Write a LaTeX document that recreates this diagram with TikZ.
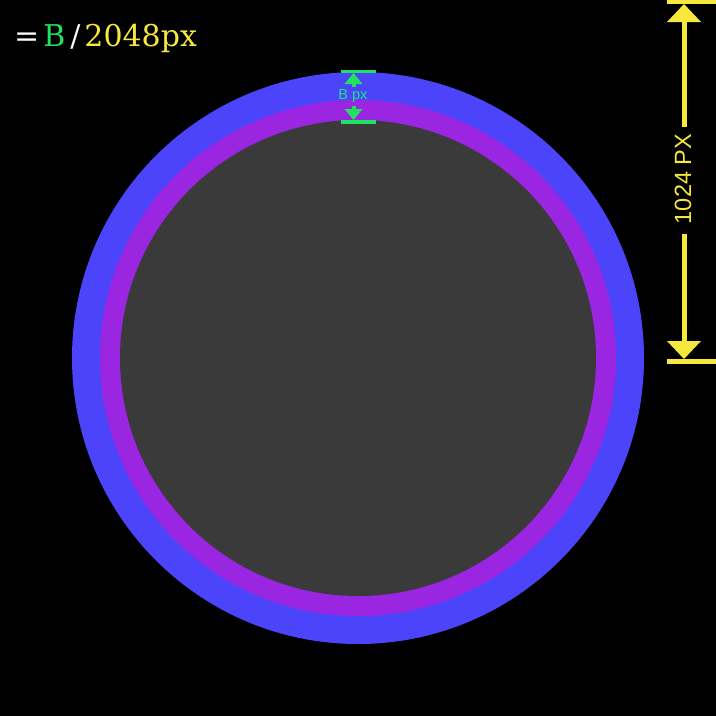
\documentclass[tikz,border=0pt]{standalone}
\usepackage{fontspec}
\setmainfont{DejaVu Serif}
\newfontfamily\labelsans{Liberation Sans}
\definecolor{ringblue}{HTML}{4B44FB}
\definecolor{ringpurple}{HTML}{9A26E2}
\definecolor{coregrey}{HTML}{3A3A3A}
\definecolor{mgreen}{HTML}{22E060}
\definecolor{myellow}{HTML}{F7E83E}
\tikzset{
  ybar/.style={fill=myellow, draw=none},
  gbar/.style={fill=mgreen, draw=none},
}
\begin{document}
\begin{tikzpicture}[x=1pt,y=-1pt]
\fill[black] (0,0) rectangle (716,716);
\useasboundingbox (0,0) rectangle (716,716);
% rings
\fill[ringblue] (358,358) circle (286);
\fill[ringpurple] (358,358) circle (258);
\fill[coregrey] (358,358) circle (238);
% green marker
\fill[gbar] (341,69.5) rectangle (376,73);
\fill[gbar] (341,120) rectangle (376,123.5);
\fill[gbar] (353.5,73) -- (344.5,84) -- (362.5,84) -- cycle;
\fill[gbar] (351.5,83) rectangle (355.5,87);
\fill[gbar] (353.5,120) -- (344.5,109) -- (362.5,109) -- cycle;
\fill[gbar] (351.5,106) rectangle (355.5,110);
\node[text=mgreen!80!cyan, font=\labelsans\fontsize{14.5}{14.5}\selectfont, inner sep=0] (bpx) at (353,96) {B px};
% yellow dimension
\fill[ybar] (667,-1) rectangle (716,4);
\fill[ybar] (667,359) rectangle (716,364);
\fill[ybar] (684,4) -- (667,22) -- (701,22) -- cycle;
\fill[ybar] (684,359) -- (667,341) -- (701,341) -- cycle;
\node[text=myellow, rotate=90, font=\labelsans\fontsize{23.5}{23.5}\selectfont, inner sep=0] (dim) at (683,179) {1024 PX};
\draw[myellow, line width=5] (684,22) -- (684,127);
\draw[myellow, line width=5] (684,234) -- (684,341);
% title
\node[anchor=base west, inner sep=0, font=\fontsize{30}{30}\selectfont] (title) at (14,46)
  {\textcolor{white}{=}\hspace{4pt}\textcolor{mgreen}{B}\hspace{5pt}\textcolor{white}{/}\hspace{4pt}\textcolor{myellow}{2048px}};
\end{tikzpicture}
\end{document}
